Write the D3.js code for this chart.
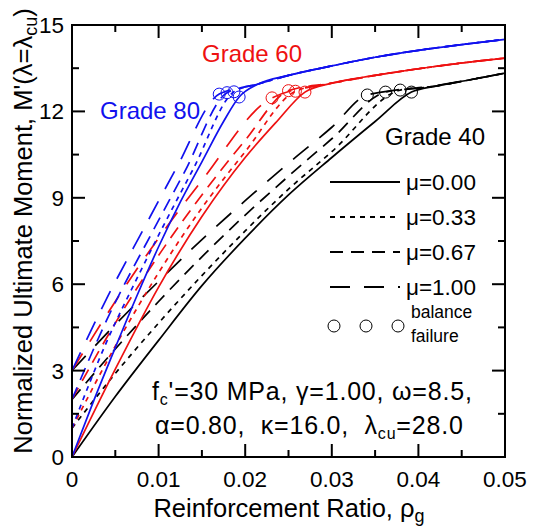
<!DOCTYPE html>
<html>
<head>
<meta charset="utf-8">
<script src="https://cdn.jsdelivr.net/npm/d3@7.9.0/dist/d3.min.js"></script>
<style>
  body { margin: 0; background: #fff; }
  text { font-family: "Liberation Sans", Arial, sans-serif; white-space: pre; }
</style>
</head>
<body>
<svg id="chart" width="533" height="527"></svg>
<script>
// ---- data: [rho_g, M'] ----
const xTicks = [0, 0.01, 0.02, 0.03, 0.04, 0.05];
const xTickLabels = ['0', '0.01', '0.02', '0.03', '0.04', '0.05'];
const yTicks = [0, 3, 6, 9, 12, 15];
const muLabels = ['μ=0.00', 'μ=0.33', 'μ=0.67', 'μ=1.00'];
const gradeNames = ['Grade 40', 'Grade 60', 'Grade 80'];

// Grade 40 (black), up to balance failure (last point)
const g40_mu000 = [[0, 0], [0.005, 2.1], [0.01, 4.05], [0.015, 5.95], [0.02, 7.6], [0.025, 9.1], [0.03, 10.4], [0.035, 11.65], [0.0392, 12.67]];
const g40_mu033 = [[0, 1.0], [0.005, 2.9], [0.01, 4.65], [0.015, 6.3], [0.02, 7.85], [0.025, 9.3], [0.03, 10.6], [0.0379, 12.74]];
const g40_mu067 = [[0, 2.0], [0.005, 3.75], [0.01, 5.4], [0.015, 6.95], [0.02, 8.4], [0.025, 9.75], [0.03, 11.05], [0.0362, 12.67]];
const g40_mu100 = [[0, 3.0], [0.005, 4.6], [0.01, 6.1], [0.015, 7.55], [0.02, 8.9], [0.025, 10.2], [0.03, 11.45], [0.0341, 12.57]];
const g40_post = [[0.042, 12.88], [0.046, 13.1], [0.05, 13.33]];

// Grade 60 (red)
const g60_mu000 = [[0, 0], [0.005, 3.05], [0.01, 5.9], [0.015, 8.35], [0.02, 10.4], [0.0235, 11.6], [0.0269, 12.67]];
const g60_mu033 = [[0, 1.0], [0.005, 3.85], [0.01, 6.4], [0.015, 8.65], [0.02, 10.6], [0.0258, 12.7]];
const g60_mu067 = [[0, 2.0], [0.005, 4.65], [0.01, 7.0], [0.015, 9.1], [0.02, 11.0], [0.025, 12.72]];
const g60_mu100 = [[0, 3.0], [0.005, 5.4], [0.01, 7.6], [0.015, 9.6], [0.0231, 12.47]];
const g60_post = [[0.03, 12.98], [0.035, 13.25], [0.04, 13.48], [0.045, 13.68], [0.05, 13.85]];

// Grade 80 (blue)
const g80_mu000 = [[0, 0], [0.0025, 1.95], [0.005, 3.8], [0.0075, 5.6], [0.01, 7.3], [0.0125, 8.85], [0.015, 10.25], [0.0175, 11.65], [0.0193, 12.5]];
const g80_mu033 = [[0, 1.0], [0.004, 4.0], [0.0075, 6.2], [0.0103, 7.88], [0.014, 10.0], [0.0187, 12.68]];
const g80_mu067 = [[0, 2.0], [0.004, 4.75], [0.0094, 7.88], [0.013, 9.9], [0.0179, 12.65]];
const g80_mu100 = [[0, 3.0], [0.004, 5.5], [0.0082, 7.88], [0.012, 10.0], [0.017, 12.6]];
const g80_post = [[0.0215, 12.95], [0.025, 13.25], [0.03, 13.58], [0.035, 13.88], [0.04, 14.12], [0.045, 14.32], [0.05, 14.5]];

const groups = [
    { color: '#000000', curves: [g40_mu000, g40_mu033, g40_mu067, g40_mu100], post: g40_post },
    { color: '#ee1111', curves: [g60_mu000, g60_mu033, g60_mu067, g60_mu100], post: g60_post },
    { color: '#1111ee', curves: [g80_mu000, g80_mu033, g80_mu067, g80_mu100], post: g80_post }
];
const dashes = ['none', '5,5', '13,8', '20,14'];

// ---- layout ----
const svg = d3.select('#chart');
const plotL = 72, plotR = 505, plotT = 25, plotB = 457;

const x = d3.scaleLinear().domain([0, 0.05]).range([plotL, plotR]);
const y = d3.scaleLinear().domain([0, 15]).range([plotB, plotT]);

// curves
const line = d3.line()
    .x(d => x(d[0]))
    .y(d => y(d[1]))
    .curve(d3.curveMonotoneX);

groups.forEach(g => {
    g.curves.forEach((c, i) => {
        const pts = c.concat(g.post.filter(p => p[0] > c[c.length - 1][0]));
        svg.append('path')
            .attr('d', line(pts))
            .attr('fill', 'none')
            .attr('stroke', g.color)
            .attr('stroke-width', 1.7)
            .attr('stroke-dasharray', dashes[i]);
    });
});

// balance failure circles
groups.forEach(g => {
    g.curves.forEach(c => {
        const b = c[c.length - 1];
        svg.append('circle')
            .attr('cx', x(b[0]))
            .attr('cy', y(b[1]))
            .attr('r', 6)
            .attr('fill', 'none')
            .attr('stroke', g.color)
            .attr('stroke-width', 1);
    });
});

// frame
svg.append('rect')
    .attr('x', plotL).attr('y', plotT)
    .attr('width', plotR - plotL).attr('height', plotB - plotT)
    .attr('fill', 'none').attr('stroke', '#000').attr('stroke-width', 2);

// ticks, inward on all four sides
const xMinor = d3.range(0.005, 0.05, 0.01);
const yMinor = d3.range(1.5, 15, 3);
const tickG = svg.append('g').attr('stroke', '#000').attr('stroke-width', 2);
function xTick(v, len) {
    tickG.append('line').attr('x1', x(v)).attr('x2', x(v)).attr('y1', plotB).attr('y2', plotB - len);
    tickG.append('line').attr('x1', x(v)).attr('x2', x(v)).attr('y1', plotT).attr('y2', plotT + len);
}
function yTick(v, len) {
    tickG.append('line').attr('y1', y(v)).attr('y2', y(v)).attr('x1', plotL).attr('x2', plotL + len);
    tickG.append('line').attr('y1', y(v)).attr('y2', y(v)).attr('x1', plotR).attr('x2', plotR - len);
}
xTicks.forEach(v => xTick(v, 13));
xMinor.forEach(v => xTick(v, 7));
yTicks.forEach(v => yTick(v, 13));
yMinor.forEach(v => yTick(v, 7));

// tick labels
xTicks.forEach((v, i) => {
    svg.append('text')
        .attr('x', x(v)).attr('y', 487)
        .attr('text-anchor', 'middle')
        .attr('font-size', 22.5)
        .text(xTickLabels[i]);
});
yTicks.forEach(v => {
    svg.append('text')
        .attr('x', 64).attr('y', y(v) + 8)
        .attr('text-anchor', 'end')
        .attr('font-size', 22.5)
        .text(v);
});

// axis titles
const xt = svg.append('text')
    .attr('x', 289).attr('y', 517)
    .attr('text-anchor', 'middle')
    .attr('font-size', 25.5);
xt.append('tspan').text('Reinforcement Ratio, ρ');
xt.append('tspan').attr('font-size', 18).attr('dy', 5).text('g');

const yt = svg.append('text')
    .attr('transform', 'translate(32,231) rotate(-90)')
    .attr('text-anchor', 'middle')
    .attr('font-size', 25.5);
yt.append('tspan').text("Normalized Ultimate Moment, M'(λ=λ");
yt.append('tspan').attr('font-size', 18).attr('dy', 5).text('cu');
yt.append('tspan').attr('dy', -5).text(')');

// grade labels
const gradePos = [[385, 145], [202, 62], [100, 119]];
gradeNames.forEach((name, i) => {
    svg.append('text')
        .attr('x', gradePos[i][0]).attr('y', gradePos[i][1])
        .attr('font-size', 24)
        .attr('fill', groups[i].color)
        .text(name);
});

// legend
const legendY = [182, 217, 252, 287];
muLabels.forEach((lab, i) => {
    svg.append('line')
        .attr('x1', 330).attr('x2', 400)
        .attr('y1', legendY[i]).attr('y2', legendY[i])
        .attr('stroke', '#000').attr('stroke-width', 2)
        .attr('stroke-dasharray', dashes[i]);
    svg.append('text')
        .attr('x', 406).attr('y', legendY[i] + 8)
        .attr('font-size', 22.5)
        .text(lab);
});
[334, 366, 398].forEach(cx => {
    svg.append('circle')
        .attr('cx', cx).attr('cy', 326).attr('r', 6)
        .attr('fill', 'none').attr('stroke', '#000').attr('stroke-width', 1);
});
svg.append('text').attr('x', 411).attr('y', 318).attr('font-size', 17.5).text('balance');
svg.append('text').attr('x', 411).attr('y', 342).attr('font-size', 17.5).text('failure');

// parameter note
const n1 = svg.append('text').attr('x', 152).attr('y', 400).attr('font-size', 25).attr('letter-spacing', 0.8);
n1.append('tspan').text('f');
n1.append('tspan').attr('font-size', 16).attr('dy', 5).text('c');
n1.append('tspan').attr('dy', -5).text("'=30 MPa, γ=1.00, ω=8.5,");
const n2 = svg.append('text').attr('x', 155).attr('y', 434).attr('font-size', 25).attr('letter-spacing', 0.8);
n2.append('tspan').text('α=0.80,  κ=16.0,  λ');
n2.append('tspan').attr('font-size', 16).attr('dy', 5).text('cu');
n2.append('tspan').attr('dy', -5).text('=28.0');
</script>
</body>
</html>
